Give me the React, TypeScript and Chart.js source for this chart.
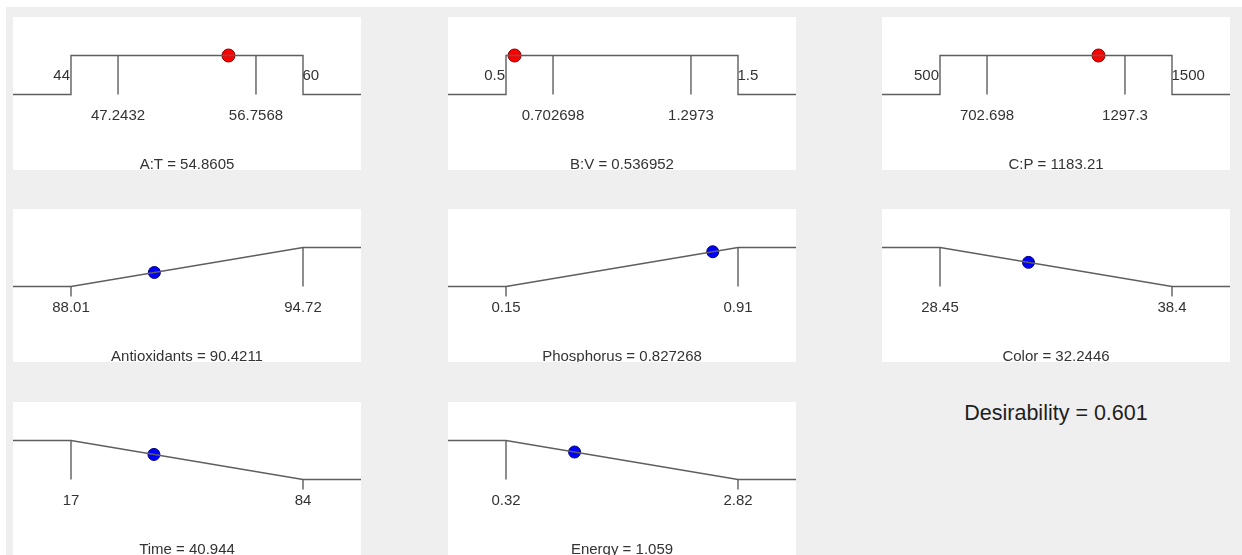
import React, { useEffect, useRef } from "react";
import { Chart, registerables } from "chart.js";

Chart.register(...registerables);

// ---- Factors (top row) ----
const factorNames = ["A:T", "B:V", "C:P"];
const factorLow = [44, 0.5, 500];
const factorHigh = [60, 1.5, 1500];
const factorInnerTicks = [
  [47.2432, 56.7568],
  [0.702698, 1.2973],
  [702.698, 1297.3],
];
const factorInnerTickLabels = [
  ["47.2432", "56.7568"],
  ["0.702698", "1.2973"],
  ["702.698", "1297.3"],
];
const factorValues = [54.8605, 0.536952, 1183.21];
const factorValueLabels = ["54.8605", "0.536952", "1183.21"];

// ---- Responses ----
const responseNames = ["Antioxidants", "Phosphorus", "Color", "Time", "Energy"];
const responseLow = [88.01, 0.15, 28.45, 17, 0.32];
const responseHigh = [94.72, 0.91, 38.4, 84, 2.82];
const responseGoals = ["maximize", "maximize", "minimize", "minimize", "minimize"];
const responseValues = [90.4211, 0.827268, 32.2446, 40.944, 1.059];
const responseValueLabels = ["90.4211", "0.827268", "32.2446", "40.944", "1.059"];

const desirabilityName = "Desirability";
const desirabilityValue = "0.601";

// ---- layout / style constants ----
const PANEL_W = 348;
const PANEL_H = 153;
const LEVEL_TOP = 38.5; // px offset of d = 1 inside a panel
const LEVEL_BOTTOM = 77.5; // px offset of d = 0 inside a panel
const TICK_DROP = 10;
const SIDE_LABEL_Y = 58;
const TICK_LABEL_Y = 98;
const TITLE_Y = 146.5;
const COL_LEFT = [13, 448, 882];
const ROW_TOP = [17, 209, 402];
const FONT = '"Liberation Sans", Arial, sans-serif';
const FONT_SIZE = 15;
const LINE_COLOR = "#5e5e5e";
const TEXT_COLOR = "#333333";

type PanelSpec = {
  kind: "factor" | "response";
  name: string;
  low: number;
  high: number;
  lowLabel: string;
  highLabel: string;
  inner: number[];
  innerLabels: string[];
  value: number;
  valueLabel: string;
  goal: string;
};

const labelPlugin = {
  id: "rampLabels",
  afterDatasetsDraw(chart: any) {
    const spec: PanelSpec = chart.options.plugins.rampLabels.spec;
    const ctx = chart.ctx;
    const xs = chart.scales.x;
    const put = (text: string, x: number, cy: number, align: CanvasTextAlign) => {
      ctx.textAlign = align;
      ctx.fillText(text, x, cy + 0.36 * FONT_SIZE);
    };
    ctx.save();
    ctx.font = `${FONT_SIZE}px ${FONT}`;
    ctx.fillStyle = TEXT_COLOR;
    ctx.textBaseline = "alphabetic";
    if (spec.kind === "factor") {
      put(spec.lowLabel, xs.getPixelForValue(spec.low) - 1, SIDE_LABEL_Y, "right");
      put(spec.highLabel, xs.getPixelForValue(spec.high) - 0.5, SIDE_LABEL_Y, "left");
      spec.inner.forEach((t, i) => put(spec.innerLabels[i], xs.getPixelForValue(t), TICK_LABEL_Y, "center"));
    } else {
      put(spec.lowLabel, xs.getPixelForValue(spec.low), TICK_LABEL_Y, "center");
      put(spec.highLabel, xs.getPixelForValue(spec.high), TICK_LABEL_Y, "center");
    }
    put(`${spec.name} = ${spec.valueLabel}`, chart.width / 2, TITLE_Y, "center");
    ctx.restore();
  },
};

function lineSet(data: { x: number; y: number }[]) {
  return {
    type: "line" as const,
    data,
    showLine: true,
    borderColor: LINE_COLOR,
    borderWidth: 1.4,
    pointRadius: 0,
    fill: false,
    tension: 0,
    clip: false as any,
  };
}

function buildConfig(spec: PanelSpec): any {
  const span = spec.high - spec.low;
  const xMin = spec.low - 0.25 * span;
  const xMax = spec.high + 0.25 * span;
  const unit = LEVEL_BOTTOM - LEVEL_TOP;
  const yMax = 1 + LEVEL_TOP / unit;
  const yMin = -(PANEL_H - LEVEL_BOTTOM) / unit;
  const drop = TICK_DROP / unit;
  const datasets: any[] = [];
  let marker: { x: number; y: number };
  let markerFill: string;
  let markerBorder: string;
  let markerRadius: number;
  if (spec.kind === "factor") {
    datasets.push(
      lineSet([
        { x: xMin, y: 0 },
        { x: spec.low, y: 0 },
        { x: spec.low, y: 1 },
        { x: spec.high, y: 1 },
        { x: spec.high, y: 0 },
        { x: xMax, y: 0 },
      ])
    );
    spec.inner.forEach((t) => datasets.push(lineSet([{ x: t, y: 1 }, { x: t, y: 0 }])));
    marker = { x: spec.value, y: 1 };
    markerFill = "#ff0000";
    markerBorder = "#8a0000";
    markerRadius = 6.5;
  } else {
    const dLow = spec.goal === "maximize" ? 0 : 1;
    const dHigh = 1 - dLow;
    datasets.push(
      lineSet([
        { x: xMin, y: dLow },
        { x: spec.low, y: dLow },
        { x: spec.high, y: dHigh },
        { x: xMax, y: dHigh },
      ])
    );
    [
      [spec.low, dLow],
      [spec.high, dHigh],
    ].forEach(([x, d]) => {
      if (d === 1) datasets.push(lineSet([{ x, y: 1 }, { x, y: 0 }]));
      else datasets.push(lineSet([{ x, y: 0 }, { x, y: -drop }]));
    });
    marker = { x: spec.value, y: dLow + ((spec.value - spec.low) / span) * (dHigh - dLow) };
    markerFill = "#0000ff";
    markerBorder = "#00006e";
    markerRadius = 6;
  }
  datasets.push({
    type: "scatter",
    data: [marker],
    pointRadius: markerRadius,
    pointBackgroundColor: markerFill,
    pointBorderColor: markerBorder,
    pointBorderWidth: 1,
    showLine: false,
    clip: false,
  });
  return {
    type: "scatter",
    data: { datasets },
    options: {
      responsive: false,
      maintainAspectRatio: false,
      animation: false,
      events: [],
      layout: { padding: 0, autoPadding: false },
      scales: {
        x: { type: "linear", display: false, min: xMin, max: xMax },
        y: { type: "linear", display: false, min: yMin, max: yMax },
      },
      plugins: {
        legend: { display: false },
        tooltip: { enabled: false },
        rampLabels: { spec },
      },
    },
    plugins: [labelPlugin],
  };
}

function Panel({ spec, left, top }: { spec: PanelSpec; left: number; top: number }) {
  const ref = useRef<HTMLCanvasElement | null>(null);
  useEffect(() => {
    if (!ref.current) return;
    const chart = new Chart(ref.current, buildConfig(spec));
    return () => chart.destroy();
  }, [spec]);
  return (
    <div
      style={{
        position: "absolute",
        left,
        top,
        width: PANEL_W,
        height: PANEL_H,
        background: "#ffffff",
      }}
    >
      <canvas ref={ref} width={PANEL_W} height={PANEL_H} style={{ display: "block", width: PANEL_W, height: PANEL_H }} />
    </div>
  );
}

const factorSpecs: PanelSpec[] = factorNames.map((name, i) => ({
  kind: "factor",
  name,
  low: factorLow[i],
  high: factorHigh[i],
  lowLabel: String(factorLow[i]),
  highLabel: String(factorHigh[i]),
  inner: factorInnerTicks[i],
  innerLabels: factorInnerTickLabels[i],
  value: factorValues[i],
  valueLabel: factorValueLabels[i],
  goal: "range",
}));

const responseSpecs: PanelSpec[] = responseNames.map((name, i) => ({
  kind: "response",
  name,
  low: responseLow[i],
  high: responseHigh[i],
  lowLabel: String(responseLow[i]),
  highLabel: String(responseHigh[i]),
  inner: [],
  innerLabels: [],
  value: responseValues[i],
  valueLabel: responseValueLabels[i],
  goal: responseGoals[i],
}));

export default function App() {
  const all = [...factorSpecs, ...responseSpecs];
  return (
    <div
      style={{
        position: "fixed",
        left: 0,
        top: 0,
        width: 1242,
        height: 555,
        background: "#ffffff",
        overflow: "hidden",
        fontFamily: FONT,
      }}
    >
      <div
        style={{
          position: "absolute",
          left: 6,
          top: 7,
          width: 1236,
          height: 548,
          background: "#efefef",
        }}
      />
      {all.map((spec, i) => (
        <Panel key={spec.name} spec={spec} left={COL_LEFT[i % 3]} top={ROW_TOP[Math.floor(i / 3)]} />
      ))}
      <div
        style={{
          position: "absolute",
          left: COL_LEFT[2],
          width: PANEL_W,
          top: 400,
          height: 26,
          lineHeight: "26px",
          textAlign: "center",
          fontSize: 21.5,
          color: "#1e1e1e",
          whiteSpace: "nowrap",
        }}
      >
        {`${desirabilityName} = ${desirabilityValue}`}
      </div>
    </div>
  );
}
